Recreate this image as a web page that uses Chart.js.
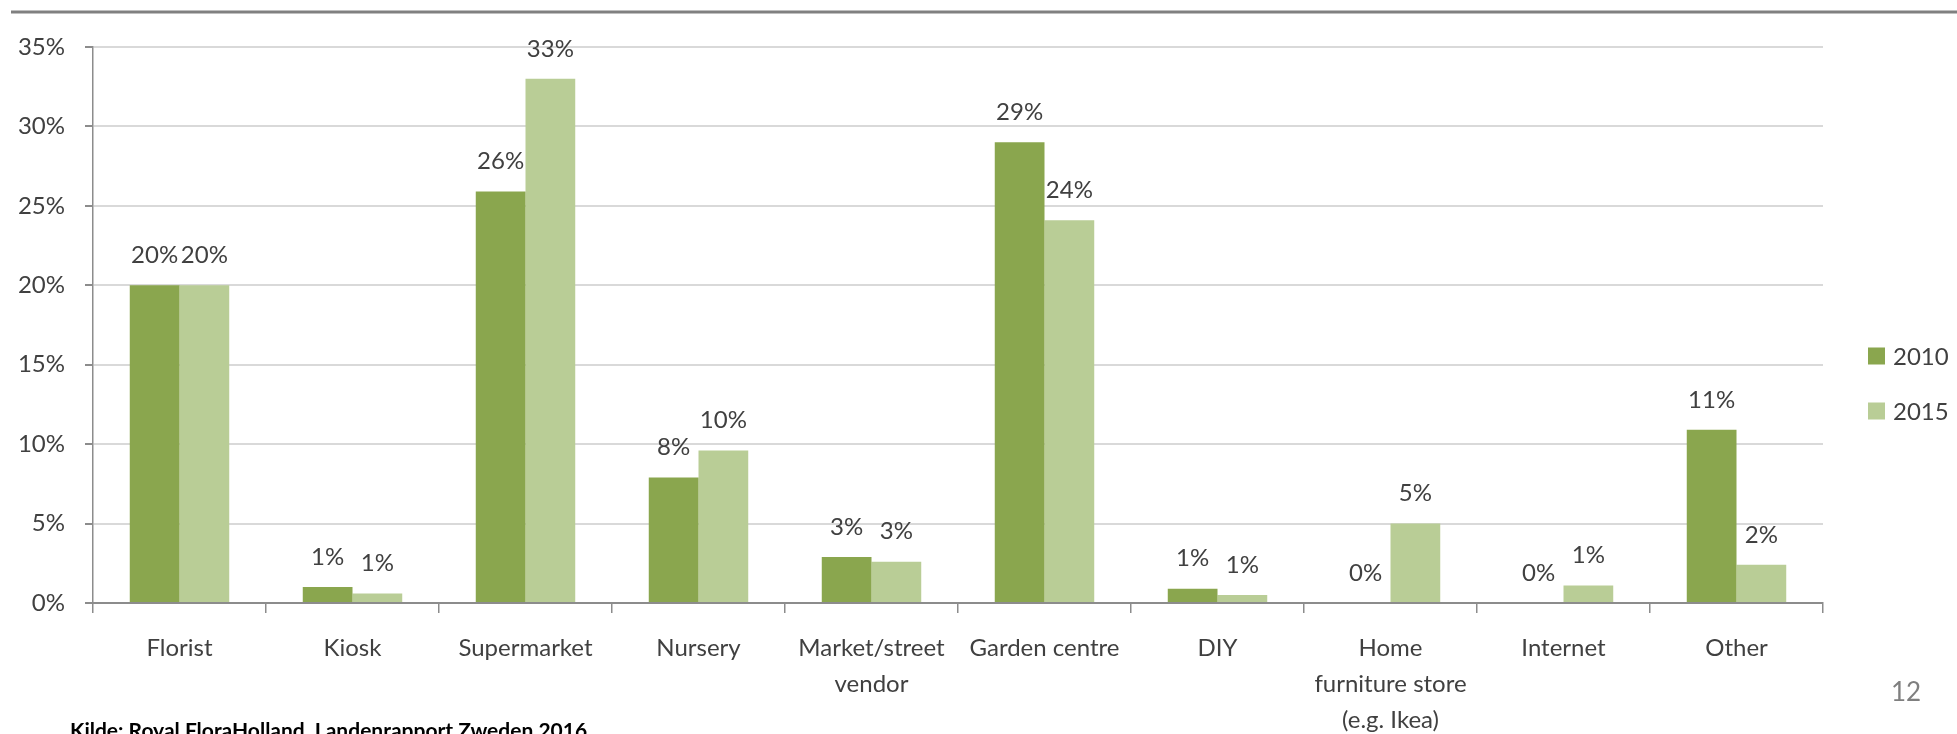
<!DOCTYPE html>
<html>
<head>
<meta charset="utf-8">
<title>Flower purchase channels 2010 vs 2015</title>
<script src="https://cdn.jsdelivr.net/npm/chart.js@4/dist/chart.umd.min.js"></script>
<style>
  html, body { margin: 0; padding: 0; background: #fff; }
  #wrap { position: relative; width: 1957px; height: 734px; overflow: hidden; }
</style>
</head>
<body>
<div id="wrap"><canvas id="barChart"></canvas></div>
<script>
const categories = [
  'Florist', 'Kiosk', 'Supermarket', 'Nursery', ['Market/street', 'vendor'],
  'Garden centre', 'DIY', ['Home', 'furniture store', '(e.g. Ikea)'], 'Internet', 'Other'
];
const years = ['2010', '2015'];
const values2010 = [20, 1.0, 25.9, 7.9, 2.9, 29.0, 0.9, 0, 0, 10.9];
const values2015 = [20, 0.6, 33.0, 9.6, 2.6, 24.1, 0.5, 5.0, 1.1, 2.4];
const yTicks = [0, 5, 10, 15, 20, 25, 30, 35];
const sourceNote = 'Kilde: Royal FloraHolland, Landenrapport Zweden 2016';
const pageNumber = '12';

const colors = ['#8aa64e', '#b9cd96'];
const textColor = '#404040';
const fontFamily = 'Lato, "Open Sans", sans-serif';

// data labels above each bar, plus the slide bits (top rule, legend, footer)
const extrasPlugin = {
  id: 'extras',
  beforeDraw(chart) {
    const ctx = chart.ctx;
    ctx.save();
    ctx.fillStyle = '#fff';
    ctx.fillRect(0, 0, chart.width, chart.height);
    ctx.strokeStyle = '#808080';
    ctx.lineWidth = 3;
    ctx.beginPath();
    ctx.moveTo(11, 12);
    ctx.lineTo(chart.width, 12);
    ctx.stroke();
    ctx.restore();
  },
  afterDatasetsDraw(chart) {
    const ctx = chart.ctx;
    ctx.save();
    ctx.font = '24px ' + fontFamily;
    ctx.fillStyle = textColor;
    ctx.textAlign = 'center';
    ctx.textBaseline = 'middle';
    chart.data.datasets.forEach((ds, di) => {
      const meta = chart.getDatasetMeta(di);
      meta.data.forEach((bar, i) => {
        ctx.fillText(Math.round(ds.data[i]) + '%', bar.x, bar.y - 30);
      });
    });

    // legend
    ctx.textAlign = 'left';
    const legendY = [356, 411];
    years.forEach((y, i) => {
      ctx.fillStyle = colors[i];
      ctx.fillRect(1868, legendY[i] - 8.5, 17, 17);
      ctx.fillStyle = textColor;
      ctx.fillText(y, 1893, legendY[i] + 1);
    });

    // page number
    ctx.fillStyle = '#7f7f7f';
    ctx.font = '26px ' + fontFamily;
    ctx.fillText(pageNumber, 1891, 693);

    // source, cut off at the bottom edge like the slide
    ctx.fillStyle = '#000';
    ctx.font = 'bold 21px ' + fontFamily;
    ctx.textBaseline = 'alphabetic';
    ctx.fillText(sourceNote, 70, 738);
    ctx.restore();
  }
};

new Chart(document.getElementById('barChart'), {
  type: 'bar',
  data: {
    labels: categories,
    datasets: [
      { label: years[0], data: values2010, backgroundColor: colors[0] },
      { label: years[1], data: values2015, backgroundColor: colors[1] }
    ]
  },
  options: {
    responsive: true,
    maintainAspectRatio: false,
    animation: false,
    devicePixelRatio: 1,
    datasets: {
      bar: { barPercentage: 1, categoryPercentage: 0.575 }
    },
    layout: { padding: { left: 0, right: 134, top: 47, bottom: 0 } },
    plugins: {
      legend: { display: false },
      tooltip: { enabled: false }
    },
    scales: {
      x: {
        afterFit(scale) { scale.height = 131; },
        grid: {
          drawOnChartArea: false,
          color: '#8c8c8c',
          tickLength: 10,
          lineWidth: 1.5
        },
        border: { color: '#8c8c8c', width: 2 },
        ticks: {
          color: textColor,
          font: { family: fontFamily, size: 24, lineHeight: 1.5 },
          maxRotation: 0,
          minRotation: 0,
          autoSkip: false,
          padding: 17
        }
      },
      y: {
        min: 0,
        max: 35,
        afterFit(scale) { scale.width = 93; },
        afterBuildTicks(scale) { scale.ticks = yTicks.map(v => ({ value: v })); },
        grid: {
          color: '#d9d9d9',
          lineWidth: 2,
          tickLength: 8,
          tickColor: '#8c8c8c'
        },
        border: { color: '#8c8c8c', width: 1.5 },
        ticks: {
          color: textColor,
          font: { family: fontFamily, size: 24 },
          padding: 20,
          callback: v => v + '%'
        }
      }
    }
  },
  plugins: [extrasPlugin]
});
</script>
</body>
</html>
